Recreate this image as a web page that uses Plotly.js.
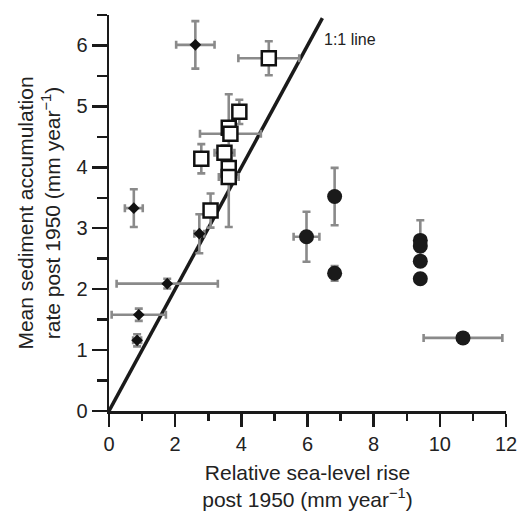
<!DOCTYPE html>
<html>
<head>
<meta charset="utf-8">
<script src="https://cdn.plot.ly/plotly-3.0.1.min.js"></script>
<style>html,body{margin:0;padding:0;background:#fff;}#chart{width:520px;height:511px;}</style>
</head>
<body>
<div id="chart"></div>
<script>
// Diamonds
const diamondX = [2.61, 0.75, 2.73, 1.76, 0.90, 0.85];
const diamondY = [6.01, 3.33, 2.91, 2.09, 1.58, 1.16];
const diamondEx = [0.58, 0.27, 0.15, 1.53, 0.82, 0.12];
const diamondEy = [0.39, 0.31, 0.32, 0.08, 0.10, 0.10];
// Open squares
const squareX = [4.83, 3.94, 3.62, 3.67, 3.49, 2.79, 3.62, 3.62, 3.07];
const squareY = [5.79, 4.91, 4.65, 4.55, 4.24, 4.14, 3.99, 3.84, 3.29];
const squareEx = [0.92, 0.12, 0.10, 0.92, 0.30, 0.08, 0.08, 0.30, 0.08];
const squareEyPlus = [0.28, 0.20, 0.10, 0.10, 0.12, 0.24, 1.21, 0.10, 0.28];
const squareEyMinus = [0.28, 0.20, 0.10, 0.10, 0.12, 0.24, 0.97, 0.10, 0.28];
// Filled circles
const circleX = [6.82, 5.97, 6.82, 9.41, 9.41, 9.41, 9.41, 10.70];
const circleY = [3.52, 2.86, 2.26, 2.80, 2.71, 2.46, 2.17, 1.20];
const circleEx = [0.15, 0.39, 0.15, 0.15, 0.15, 0.15, 0.15, 1.19];
const circleEy = [0.47, 0.41, 0.12, 0.33, 0.10, 0.08, 0.08, 0.05];
// 1:1 line
const lineX = [0, 6.45];
const lineY = [0, 6.45];

const errColor = '#8a8a8a';
const fontFam = 'Liberation Sans, Arial, sans-serif';

function errBars(arr, minus) {
  const e = {type: 'data', array: arr, visible: true, color: errColor, thickness: 2.6, width: 4};
  if (minus) { e.symmetric = false; e.arrayminus = minus; }
  return e;
}

const traces = [
  {x: lineX, y: lineY, mode: 'lines', line: {color: '#1a1a1a', width: 3.5}, hoverinfo: 'skip'},
  {x: diamondX, y: diamondY, mode: 'markers', type: 'scatter',
   marker: {symbol: 'diamond', size: 9, color: '#111'},
   error_x: errBars(diamondEx), error_y: errBars(diamondEy)},
  {x: squareX, y: squareY, mode: 'markers', type: 'scatter',
   marker: {symbol: 'square', size: 14, color: '#fff', line: {color: '#111', width: 2.5}},
   error_x: errBars(squareEx), error_y: errBars(squareEyPlus, squareEyMinus)},
  {x: circleX, y: circleY, mode: 'markers', type: 'scatter',
   marker: {symbol: 'circle', size: 15, color: '#1a1a1a'},
   error_x: errBars(circleEx), error_y: errBars(circleEy)}
];

const axisCommon = {
  showgrid: false, zeroline: false, showline: true, linecolor: '#1a1a1a', linewidth: 2.5,
  ticks: 'outside', tickcolor: '#1a1a1a', tickwidth: 2.5,
  tickfont: {family: fontFam, size: 20, color: '#222'}
};

const layout = {
  width: 520, height: 511,
  margin: {l: 109, r: 14, t: 15, b: 100},
  showlegend: false,
  paper_bgcolor: '#fff', plot_bgcolor: '#fff',
  xaxis: Object.assign({}, axisCommon, {
    range: [0, 12], dtick: 2, tick0: 0, ticklen: 13,
    minor: {dtick: 1, ticklen: 7, tickwidth: 2.5, tickcolor: '#1a1a1a', ticks: 'outside'},
    title: {text: 'Relative sea-level rise<br>post 1950 (mm year<sup>−1</sup>)', font: {family: fontFam, size: 21, color: '#222'}, standoff: 14}
  }),
  yaxis: Object.assign({}, axisCommon, {
    range: [0, 6.5], dtick: 1, tick0: 0, ticklen: 15, ticklabelstandoff: 0,
    minor: {dtick: 0.5, ticklen: 10, tickwidth: 2.5, tickcolor: '#1a1a1a', ticks: 'outside'},
    title: {text: 'Mean sediment accumulation<br>rate post 1950 (mm year<sup>−1</sup>)', font: {family: fontFam, size: 21, color: '#222'}, standoff: 10}
  }),
  annotations: [{
    x: 6.45, y: 6.09, xref: 'x', yref: 'y', text: '1:1 line', showarrow: false,
    xanchor: 'left', yanchor: 'middle', font: {family: fontFam, size: 16, color: '#222'}
  }]
};

Plotly.newPlot('chart', traces, layout, {displayModeBar: false, staticPlot: true});
</script>
</body>
</html>
